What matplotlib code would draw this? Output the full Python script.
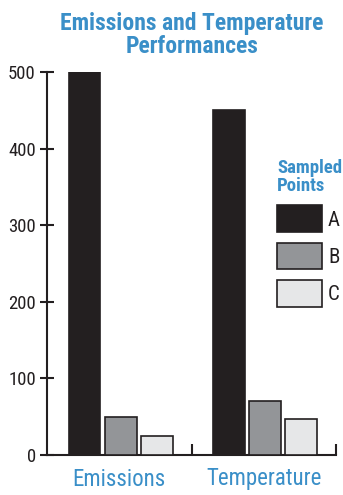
import matplotlib
matplotlib.use("Agg")
import matplotlib.pyplot as plt
import numpy as np

categories = ["Emissions", "Temperature"]
series_names = ["A", "B", "C"]
values_A = [500, 450]
values_B = [50, 70]
values_C = [25, 47]
yticks = [0, 100, 200, 300, 400, 500]

cond = ["Roboto Condensed", "DejaVu Sans"]

blue = "#3a8fc8"
dark = "#231f20"
colors = ["#231f20", "#939598", "#e6e7e8"]

fig = plt.figure(figsize=(3.43, 4.95), dpi=100)
ax = fig.add_axes([47/343, 1-455/495, (336-47)/343, (455-72)/495])

x = np.arange(len(categories))
width = 0.22
offsets = [-0.24, 0.01, 0.26]
series = [values_A, values_B, values_C]
handles = []
for off, vals, c, name in zip(offsets, series, colors, series_names):
    h = ax.bar(x + off, vals, width, color=c, edgecolor=dark, linewidth=1.2, label=name, zorder=3)
    handles.append(h)

ax.set_xlim(-0.5, 1.5)
ax.set_ylim(0, 500)
ax.set_yticks(yticks)
ax.set_yticklabels([str(v) for v in yticks], fontfamily=cond, fontsize=13.5, color=dark)
ax.set_xticks(x)
ax.set_xticklabels(categories, fontfamily=cond, fontsize=16.5, color=blue)
ax.tick_params(axis="x", length=0, pad=9)
ax.set_xticks([0.5, 1.5], minor=True)
ax.tick_params(axis="x", which="minor", direction="in", length=8, width=1.5, color=dark)
ax.tick_params(axis="y", direction="inout", length=10, width=1.5, color=dark, pad=3)
for s in ["top", "right"]:
    ax.spines[s].set_visible(False)
for s in ["left", "bottom"]:
    ax.spines[s].set_linewidth(1.5)
    ax.spines[s].set_color(dark)

fig.text(0.56, 0.975, "Emissions and Temperature\nPerformances", ha="center", va="top",
         fontfamily=cond, fontweight="bold", fontsize=17, color=blue, linespacing=1.0)

leg = ax.legend(handles=handles, labels=series_names, loc="upper left",
                bbox_to_anchor=((277-47)/289, (455-159)/383), frameon=False,
                handlelength=2.15, handleheight=1.6, labelspacing=0.5, handletextpad=0.3,
                borderaxespad=0, borderpad=0, title="Sampled\nPoints", alignment="left",
                prop={"family": cond, "size": 15})
leg.get_title().set_fontfamily(cond)
leg.get_title().set_fontweight("bold")
leg.get_title().set_fontsize(13.5)
leg.get_title().set_color(blue)
leg.get_title().set_linespacing(1.0)
for t in leg.get_texts():
    t.set_color(dark)

fig.savefig("out.png", dpi=100)
